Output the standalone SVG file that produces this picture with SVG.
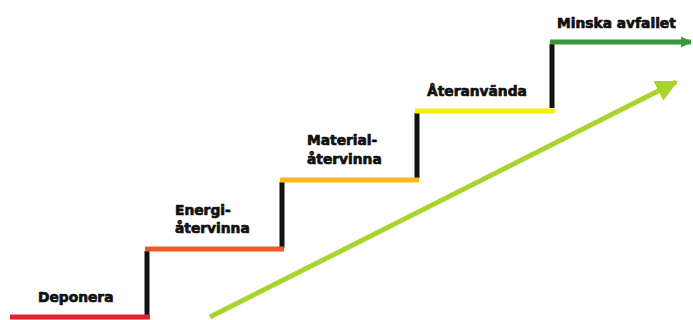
<svg xmlns="http://www.w3.org/2000/svg" width="693" height="320" viewBox="0 0 693 320">
<style>
.step{stroke-width:5;fill:none;stroke-linecap:butt}
.riser{stroke:#111;stroke-width:5;fill:none}
.lbl{font-family:"DejaVu Sans",sans-serif;font-weight:bold;font-size:13.8px;fill:#111;stroke:#111;stroke-width:0.7;stroke-linejoin:round}
</style>
<defs>
<marker id="hg" viewBox="0 0 10 10" refX="9" refY="5" markerWidth="2.2" markerHeight="3" orient="auto" markerUnits="strokeWidth">
<path d="M0,0 L10,5 L0,10 Z" fill="#3a963a"/>
</marker>
<marker id="hl" viewBox="0 0 10 10" refX="9" refY="5" markerWidth="4.4" markerHeight="4.4" orient="auto" markerUnits="strokeWidth">
<path d="M0,0 L10,5 L0,10 Z" fill="#a8d42c"/>
</marker>
</defs>
<g id="connectors">
<line class="riser" x1="147" y1="251" x2="147" y2="315"/>
<line class="riser" x1="282" y1="182" x2="282" y2="248"/>
<line class="riser" x1="417" y1="113" x2="417" y2="178"/>
<line class="riser" x1="552" y1="44" x2="552" y2="108"/>
<line x1="210" y1="317" x2="676" y2="82" stroke="#a8d42c" stroke-width="5" marker-end="url(#hl)"/>
</g>
<g id="deponera">
<line class="step" x1="10" y1="317" x2="150" y2="317" stroke="#e8202a"/>
<text class="lbl" x="38" y="302">Deponera</text>
</g>
<g id="energiatervinna">
<line class="step" x1="145" y1="249" x2="284" y2="249" stroke="#f05a22"/>
<text class="lbl" x="175" y="215">Energi-</text>
<text class="lbl" x="175" y="233">återvinna</text>
</g>
<g id="materialatervinna">
<line class="step" x1="280" y1="180" x2="419" y2="180" stroke="#f9b81c"/>
<text class="lbl" x="307" y="145">Material-</text>
<text class="lbl" x="307" y="164">återvinna</text>
</g>
<g id="ateranvanda">
<line class="step" x1="415" y1="111" x2="555" y2="111" stroke="#f2ee10"/>
<text class="lbl" x="427" y="96">Återanvända</text>
</g>
<g id="minska">
<line class="step" x1="550" y1="42" x2="691" y2="42" stroke="#3a963a" marker-end="url(#hg)"/>
<text class="lbl" x="557" y="28">Minska avfallet</text>
</g>
</svg>
